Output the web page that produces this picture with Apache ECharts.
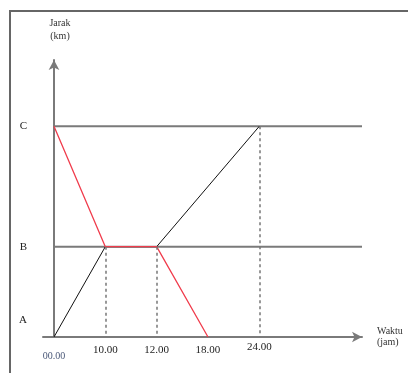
<!DOCTYPE html>
<html>
<head>
<meta charset="utf-8">
<script src="https://cdn.jsdelivr.net/npm/echarts@6/dist/echarts.min.js"></script>
<style>
  html, body { margin: 0; padding: 0; background: #fff; }
  #chart { width: 408px; height: 373px; }
</style>
</head>
<body>
<div id="chart"></div>
<script>
// waktu (jam) yang diberi label di sumbu x; sumbu digambar skematis (urutan)
const hourTicks = [0, 10, 12, 18, 24];
const hourLabels = ['00.00', '10.00', '12.00', '18.00', '24.00'];
// stasiun A, B, C dan jaraknya (satuan relatif)
const stations = ['A', 'B', 'C'];
const stationKm = [0, 3, 7];
// perjalanan kereta
const ka1Hours = [0, 10, 12, 24];
const ka1Stops = ['A', 'B', 'B', 'C'];
const ka2Hours = [0, 10, 12, 18];
const ka2Stops = ['C', 'B', 'B', 'A'];
// posisi teks "KA 1" / "KA 2" (posisi sumbu waktu, jarak)
const labelNames = ['KA 1', 'KA 2'];
const labelSteps = [3.18, 0.91];
const labelKm = [4.94, 5.71];

const xMin = -0.214, xMax = 6, yMax = 9.2;
const serif = 'Liberation Serif';

const km = s => stationKm[stations.indexOf(s)];
const step = h => hourTicks.indexOf(h);
const ka1 = ka1Hours.map((h, i) => [step(h), km(ka1Stops[i])]);
const ka2 = ka2Hours.map((h, i) => [step(h), km(ka2Stops[i])]);

const chart = echarts.init(document.getElementById('chart'));

let option = {
  animation: false,
  grid: { left: 43, right: 46, top: 60, bottom: 36 },
  graphic: [{
    type: 'polyline',
    shape: { points: [[10, 373], [10, 11], [408, 11]] },
    style: { stroke: '#666', lineWidth: 2, fill: null }
  }],
  xAxis: {
    type: 'value',
    min: xMin,
    max: xMax,
    name: 'Waktu\n(jam)',
    nameLocation: 'end',
    nameGap: 15,
    nameTextStyle: { fontFamily: serif, fontSize: 10, color: '#333', align: 'left', lineHeight: 11 },
    splitLine: { show: false },
    axisTick: { show: false },
    axisLine: {
      lineStyle: { color: '#7a7a7a', width: 2 },
      symbol: ['none', 'arrow'],
      symbolSize: [8, 10]
    },
    axisLabel: {
      customValues: hourTicks.map((h, i) => i),
      margin: 8,
      fontFamily: serif,
      fontSize: 11,
      color: '#222',
      formatter: v => {
        const t = hourLabels[v];
        if (v === 0) return '{z|' + t + '}';
        if (v === hourTicks.length - 1) return '{u|' + t + '}';
        return t;
      },
      rich: {
        z: { fontFamily: serif, fontSize: 10, color: '#4a5878', padding: [6, 0, 0, 0] },
        u: { fontFamily: serif, fontSize: 11, color: '#222', lineHeight: 5 }
      }
    }
  },
  yAxis: {
    type: 'value',
    min: 0,
    max: yMax,
    name: 'Jarak\n(km)',
    nameLocation: 'end',
    nameGap: 17,
    nameTextStyle: { fontFamily: serif, fontSize: 10, color: '#333', align: 'center', lineHeight: 13, padding: [0, 0, 0, 12] },
    splitLine: { show: false },
    axisTick: { show: false },
    axisLine: {
      onZero: true,
      lineStyle: { color: '#7a7a7a', width: 2 },
      symbol: ['none', 'arrow'],
      symbolSize: [8, 10]
    },
    axisLabel: {
      customValues: stationKm,
      margin: 16,
      fontFamily: serif,
      fontSize: 11,
      color: '#222',
      formatter: v => {
        const s = stations[stationKm.indexOf(v)];
        return v === 0 ? '{a|' + s + '}' : s;
      },
      rich: { a: { fontFamily: serif, fontSize: 11, color: '#222', padding: [0, 0, 34, 0] } }
    }
  },
  series: [
    // garis stasiun B dan C
    ...stations.filter(s => km(s) > 0).map(s => ({
      type: 'line',
      data: [[0, km(s)], [xMax, km(s)]],
      symbol: 'none',
      silent: true,
      lineStyle: { color: '#7a7a7a', width: 2 }
    })),
    // garis putus-putus ke sumbu waktu
    {
      type: 'line',
      data: [],
      markLine: {
        silent: true,
        symbol: 'none',
        label: { show: false },
        lineStyle: { color: '#777', type: [3, 3], width: 1.5 },
        data: ka1.slice(1).map(p => [{ coord: [p[0], p[1]] }, { coord: [p[0], 0] }])
      }
    },
    {
      name: 'KA 1',
      type: 'line',
      data: ka1,
      symbol: 'none',
      lineStyle: { color: '#111', width: 1 },
      markPoint: {
        symbol: 'none',
        label: { show: true, formatter: '{b}', fontFamily: serif, fontSize: 10, color: '#333' },
        data: [{ name: labelNames[0], coord: [labelSteps[0], labelKm[0]] }]
      }
    },
    {
      name: 'KA 2',
      type: 'line',
      data: ka2,
      symbol: 'none',
      lineStyle: { color: '#f03c4c', width: 1.3 },
      markPoint: {
        symbol: 'none',
        label: { show: true, formatter: '{b}', fontFamily: serif, fontSize: 10, color: '#333' },
        data: [{ name: labelNames[1], coord: [labelSteps[1], labelKm[1]] }]
      }
    }
  ]
};

chart.setOption(option);
window.addEventListener('resize', () => chart.resize(), false);
</script>
</body>
</html>
